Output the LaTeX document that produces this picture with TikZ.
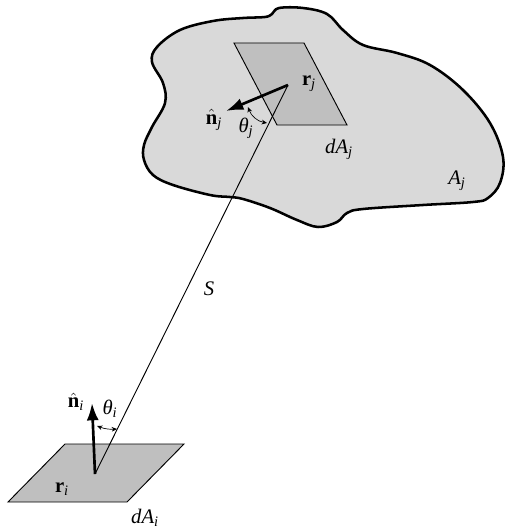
\documentclass[tikz,border=0pt]{standalone}
\usepackage{amsmath,amssymb}
\usepackage{fontspec}
\setmainfont{Liberation Serif}
\usepackage{xcolor}
\usetikzlibrary{arrows.meta,calc}
\definecolor{blobgray}{gray}{0.85}
\definecolor{patchgray}{gray}{0.75}
\tikzset{
    patch/.style={draw=black,fill=patchgray,line width=0.7pt},
    sight/.style={draw=black,line width=0.7pt},
    normalvec/.style={-{Latex[length=13pt,width=9pt]},line width=2pt},
    anglemark/.style={{Stealth[length=4pt,width=3.5pt]}-{Stealth[length=4pt,width=3.5pt]},line width=0.5pt},
    lab/.style={inner sep=0pt,font=\fontsize{15.5}{18}\selectfont}
}
\newcommand{\bvec}[2]{$\mathbf{#1}_{\mathit{#2}}$}
\newcommand{\nvec}[1]{$\hat{\mathbf{n}}_{\mathit{#1}}$}
\newcommand{\ivar}[2]{$\mathit{#1}_{\mathit{#2}}$}
\newcommand{\tvar}[1]{$\text{\textit{θ}}_{\mathit{#1}}$}
\begin{document}
\begin{tikzpicture}[x=0.75pt,y=-0.75pt]
    \useasboundingbox (0,0) rectangle (509,528);
    % Surface
    \draw[line width=1.9pt,fill=blobgray] plot[smooth cycle,tension=0.6] coordinates {
        (272,14) (279,8) (303,8) (327,14) (343,30) (363,45) (397,53) (430,65)
        (463,90) (490,123) (503,157) (500,183) (488,198) (473,202) (423,205) (363,209) (347,213)
        (337,222) (318,227) (297,220) (270,208) (243,199) (230,197) (210,195) (173,185) (153,175)
        (144,160) (144,145) (152,127) (165,103) (163,83)
        (152,62) (157,47) (180,30) (213,21) (243,18) (265,17)};
    % Patches
    \draw[patch] (234,43) -- (304,43) -- (347,125) -- (277,125) -- cycle;
    \draw[patch] (8,502) -- (65,444) -- (184,444) -- (127,502) -- cycle;
    % Points
    \coordinate (rj) at (288,85);
    \coordinate (ri) at (95,474);
    \coordinate (nj) at (226,111);
    \coordinate (ni) at (92,403);
    % Line of sight
    \draw[sight] (ri) -- (rj);
    % Normals
    \draw[normalvec] (rj) -- (nj);
    \draw[normalvec] (ri) -- (ni);
    % Angles
    \draw[anglemark] (248,107) to[bend right=30] (267,123);
    \draw[anglemark] (97,426) to[bend right=12] (117,429);
    % Labels
    \node[lab] (lrj) at (309,84) {\bvec{r}{j}};
    \node[lab] (lnj) at (214,120) {\nvec{j}};
    \node[lab] (ltj) at (246,128) {\tvar{j}};
    \node[lab] (ldaj) at (339,149) {\ivar{dA}{j}};
    \node[lab] (laj) at (457,181) {\ivar{A}{j}};
    \node[lab] (ls) at (209,289) {\textit{S}};
    \node[lab] (lti) at (110,409) {\tvar{i}};
    \node[lab] (lni) at (76,402) {\nvec{i}};
    \node[lab] (lri) at (62,489) {\bvec{r}{i}};
    \node[lab] (ldai) at (145,518) {\ivar{dA}{i}};
\end{tikzpicture}
\end{document}
